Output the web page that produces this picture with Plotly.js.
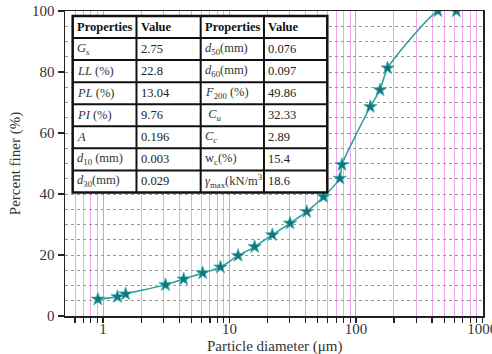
<!DOCTYPE html>
<html><head><meta charset="utf-8">
<script src="https://cdn.plot.ly/plotly-3.0.1.min.js"></script>
<style>html,body{margin:0;padding:0;background:#fff}#c{width:492px;height:354px}</style>
</head><body><div id="c"></div>
<script>
// particle size distribution (µm, % finer)
const diameter = [0.91,1.30,1.51,3.12,4.34,6.14,8.48,11.7,15.8,21.8,30.1,40.8,55.4,74.6,77.5,130,155,178,445,622];
const percentFiner = [5.5,6.3,7.2,10.2,12.1,14.1,16.0,19.8,22.7,26.6,30.4,34.2,39.1,45.1,49.6,68.6,74.1,81.3,100,100];
const xMajorTicks = [1,10,100,1000];
const xMajorLabels = ['1','10','100','1000'];
const xMinorTicks = [0.6,0.7,0.8,0.9,2,3,4,5,6,7,8,9,20,30,40,50,60,70,80,90,200,300,400,500,600,700,800,900];
// table contents
const tableHeader = ['Properties','Value','Properties','Value'];
const propsLeft = ['<i>G<sub>s</sub></i>','<i>LL</i> (%)','<i>PL</i> (%)','<i>PI</i> (%)','<i>A</i>','<i>d</i><sub>10</sub> (mm)','<i>d</i><sub>30</sub>(mm)'];
const valsLeft = ['2.75','22.8','13.04','9.76','0.196','0.003','0.029'];
const propsRight = ['<i>d</i><sub>50</sub>(mm)','<i>d</i><sub>60</sub>(mm)','<i>F</i><sub>200</sub> (%)',' <i>C<sub>u</sub></i>','<i>C<sub>c</sub></i>','w<sub>c</sub>(%)','<i>γ</i><sub>max</sub>(kN/m<sup>3</sup>'];
const valsRight = ['0.076','0.097','49.86','32.33','2.89','15.4','18.6'];

const serif = 'Liberation Serif, Times New Roman, serif';
const colX = [0.0184, 0.171, 0.3246, 0.476, 0.6275];
const tTop = 0.9836, tBot = 0.405;
const nRows = 8, rh = (tTop - tBot) / nRows;

const shapes = [];
const annotations = [];
shapes.push({type:'rect', xref:'paper', yref:'paper', x0:colX[0], x1:colX[4], y0:tBot, y1:tTop, fillcolor:'#fff', line:{color:'#111', width:2.5}, layer:'above'});
for (let r = 1; r < nRows; r++) {
  const y = tTop - r * rh;
  shapes.push({type:'line', xref:'paper', yref:'paper', x0:colX[0], x1:colX[4], y0:y, y1:y, line:{color:'#111', width:2}, layer:'above'});
}
for (let c = 1; c < 4; c++) {
  shapes.push({type:'line', xref:'paper', yref:'paper', x0:colX[c], x1:colX[c], y0:tBot, y1:tTop, line:{color:'#111', width:2}, layer:'above'});
}
const rows = [tableHeader];
for (let i = 0; i < propsLeft.length; i++) rows.push([propsLeft[i], valsLeft[i], propsRight[i], valsRight[i]]);
rows.forEach((row, r) => {
  const yc = tTop - (r + 0.5) * rh;
  row.forEach((txt, c) => {
    annotations.push({xref:'paper', yref:'paper', x: colX[c] + 0.006, y: yc, xanchor:'left', yanchor:'middle',
      text: r === 0 ? '<b>' + txt + '</b>' : txt, showarrow:false,
      font:{family: serif, size: 12.5, color: r === 0 ? '#111' : (c % 2 === 0 ? '#333' : '#222')}});
  });
});
// x-axis title placed explicitly
annotations.push({xref:'paper', yref:'paper', x:0.5, y:-0.1, xanchor:'center', yanchor:'middle', showarrow:false,
  text:'Particle diameter (μm)', font:{family: serif, size:15, color:'#333'}});

const trace = {
  x: diameter, y: percentFiner, type:'scatter', mode:'lines+markers',
  line:{color:'#2a9d9d', width:1.5, shape:'spline', smoothing:0.6},
  marker:{symbol:'star', size:10, color:'#17737a', line:{color:'#3bb5b5', width:0.8}},
  hoverinfo:'skip'
};

const layout = {
  width:492, height:354,
  margin:{l:65, r:9, t:11, b:38},
  paper_bgcolor:'#fff', plot_bgcolor:'#fff',
  showlegend:false,
  font:{family: serif, color:'#333'},
  xaxis:{
    type:'log', range:[Math.log10(0.5), 3.005],
    tickvals: xMajorTicks, ticktext: xMajorLabels,
    ticks:'outside', ticklen:5, tickcolor:'#222', tickwidth:1.2,
    showgrid:true, gridcolor:'#e98fe9', gridwidth:1,
    minor:{tickvals: xMinorTicks, ticks:'outside', ticklen:5, tickcolor:'#222', showgrid:true, gridcolor:'#efa6ef', gridwidth:1},
    showline:true, linecolor:'#222', linewidth:1.5, mirror:true,
    zeroline:false,
    tickfont:{family: serif, size:15, color:'#333'},
    ticklabelstandoff:-7,
    ticklabeloverflow:'allow',
    automargin:false
  },
  yaxis:{
    range:[0,100], dtick:20, tick0:0,
    ticks:'outside', ticklen:6, tickcolor:'#222', tickwidth:1.2,
    showgrid:true, gridcolor:'#999', griddash:'dot', gridwidth:1,
    minor:{dtick:5, showgrid:true, gridcolor:'#999', griddash:'dot', gridwidth:1},
    showline:true, linecolor:'#222', linewidth:1.5, mirror:true,
    zeroline:false,
    tickfont:{family: serif, size:15, color:'#333'},
    title:{text:'Percent finer (%)', font:{family: serif, size:15, color:'#333'}, standoff:8},
    automargin:false
  },
  shapes: shapes,
  annotations: annotations
};

Plotly.newPlot('c', [trace], layout, {displayModeBar:false, staticPlot:true});
</script>
</body></html>
